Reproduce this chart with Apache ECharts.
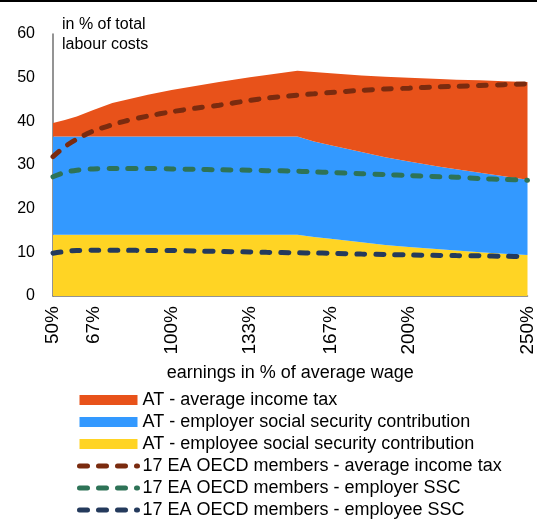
<!DOCTYPE html>
<html>
<head>
<meta charset="utf-8">
<script src="https://cdn.jsdelivr.net/npm/echarts@6/dist/echarts.min.js"></script>
<style>
html,body{margin:0;padding:0;background:#fff;}
#chart{width:537px;height:520px;}
</style>
</head>
<body>
<div id="chart"></div>
<script>
// earnings in % of average wage
const earnings = [50,55,60,67,75,80,90,100,110,120,133,140,153,160,167,180,190,200,213,220,230,240,250];
// Austria components (in % of total labour costs)
const atEmployeeSSC = [14.0,14.0,14.0,14.0,14.0,14.0,14.0,14.0,14.0,14.0,14.0,14.0,14.0,13.5,13.1,12.3,11.7,11.2,10.7,10.4,10.0,9.7,9.4];
const atEmployerSSC = [22.5,22.5,22.5,22.5,22.5,22.5,22.5,22.5,22.5,22.5,22.5,22.5,22.5,21.9,21.4,20.7,20.1,19.6,18.9,18.6,18.2,17.7,17.2];
const atIncomeTax = [3.1,3.8,4.6,6.1,7.7,8.3,9.6,10.7,11.6,12.5,13.6,14.1,15.1,15.9,16.5,17.5,18.4,19.2,20.1,20.5,21.2,21.8,22.4];
// 17 EA OECD members (cumulative levels)
const oecdIncomeTax = [31.9,34.2,35.9,37.8,39.2,40.0,41.2,42.2,43.0,43.7,44.8,45.3,46.0,46.3,46.6,47.1,47.4,47.6,47.9,48.0,48.2,48.4,48.6];
const oecdEmployerSSC = [27.3,28.3,28.8,29.1,29.2,29.2,29.2,29.1,29.0,28.9,28.8,28.7,28.6,28.4,28.3,28.0,27.8,27.6,27.3,27.2,26.9,26.7,26.5];
const oecdEmployeeSSC = [9.8,10.2,10.4,10.5,10.5,10.5,10.4,10.4,10.3,10.2,10.1,10.0,9.9,9.85,9.8,9.6,9.5,9.4,9.3,9.25,9.2,9.1,9.0];
// x tick labels
const xTickValues = [50,67,100,133,167,200,250];

const names = {
  tax: 'AT - average income tax',
  er: 'AT - employer social security contribution',
  ee: 'AT - employee social security contribution',
  oTax: '17 EA OECD members - average income tax',
  oEr: '17 EA OECD members - employer SSC',
  oEe: '17 EA OECD members - employee SSC'
};
const colors = {
  tax: '#E8521A', er: '#3399FF', ee: '#FFD424',
  oTax: '#7A2B0F', oEr: '#2E7357', oEe: '#243A5C'
};
// value first so that stacking happens on the y dimension
const pairs = arr => earnings.map((x, i) => [arr[i], x]);
const FONT = 'Liberation Sans, Arial, sans-serif';
const DASH = { width: 5, type: [8, 11], cap: 'round' };

function areaSeries(name, data, color) {
  return {
    name, type: 'line', stack: 'at', data: pairs(data),
    dimensions: ['value', 'earnings'],
    encode: { x: 1, y: 0 },
    symbol: 'none', smooth: false,
    lineStyle: { width: 0, color },
    itemStyle: { color },
    areaStyle: { color, opacity: 1 },
    emphasis: { disabled: true }
  };
}
function dashSeries(name, data, color) {
  return {
    name, type: 'line', data: pairs(data),
    dimensions: ['value', 'earnings'],
    encode: { x: 1, y: 0 },
    symbol: 'none', smooth: 0.3, z: 5,
    lineStyle: Object.assign({ color }, DASH),
    itemStyle: { color },
    emphasis: { disabled: true }
  };
}
const legendLine = key => ({
  name: names[key],
  itemStyle: { opacity: 0 },
  lineStyle: Object.assign({ color: colors[key] }, DASH)
});

const chart = echarts.init(document.getElementById('chart'), null, { renderer: 'canvas' });
chart.setOption({
  animation: false,
  textStyle: { fontFamily: FONT, color: '#000' },
  grid: { left: 53, right: 7, top: 34, bottom: 224, containLabel: false },
  graphic: [{
    type: 'line', shape: { x1: 0, y1: 1, x2: 537, y2: 1 },
    style: { stroke: '#000', lineWidth: 2 }, silent: true
  }],
  xAxis: {
    type: 'value', min: 50, max: 250,
    name: 'earnings in % of average wage',
    nameLocation: 'middle', nameGap: 68,
    nameTextStyle: { fontSize: 18, color: '#000', fontFamily: FONT },
    axisLine: { show: true, lineStyle: { color: '#707070', width: 1.5 } },
    axisTick: { show: false },
    splitLine: { show: false },
    axisLabel: {
      customValues: xTickValues,
      rotate: 90, margin: 10, fontSize: 19, color: '#000', fontFamily: FONT,
      formatter: v => v + '%'
    }
  },
  yAxis: {
    type: 'value', min: 0, max: 60, interval: 10,
    name: 'in % of total\nlabour costs',
    nameLocation: 'end', nameGap: -21,
    nameTextStyle: { fontSize: 16, color: '#000', align: 'left', verticalAlign: 'bottom', lineHeight: 20, padding: [0, 0, 0, 9], fontFamily: FONT },
    axisLine: { show: true, lineStyle: { color: '#707070', width: 1.5 } },
    axisTick: { show: false },
    splitLine: { show: false },
    axisLabel: { fontSize: 16, color: '#000', margin: 18, fontFamily: FONT }
  },
  legend: {
    orient: 'vertical', left: 77, top: 391, padding: 0,
    itemWidth: 58, itemHeight: 10, itemGap: 4,
    textStyle: { fontSize: 18, lineHeight: 18, color: '#000', fontFamily: FONT },
    data: [
      { name: names.tax, icon: 'rect' },
      { name: names.er, icon: 'rect' },
      { name: names.ee, icon: 'rect' },
      legendLine('oTax'),
      legendLine('oEr'),
      legendLine('oEe')
    ]
  },
  series: [
    areaSeries(names.ee, atEmployeeSSC, colors.ee),
    areaSeries(names.er, atEmployerSSC, colors.er),
    areaSeries(names.tax, atIncomeTax, colors.tax),
    dashSeries(names.oTax, oecdIncomeTax, colors.oTax),
    dashSeries(names.oEr, oecdEmployerSSC, colors.oEr),
    dashSeries(names.oEe, oecdEmployeeSSC, colors.oEe)
  ]
});
</script>
</body>
</html>
